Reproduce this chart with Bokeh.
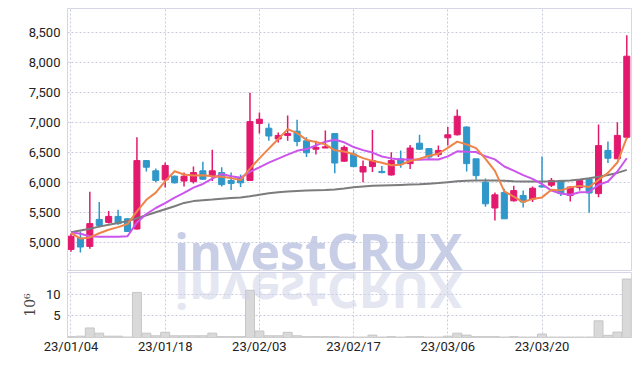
from bokeh.plotting import figure
from bokeh.models import ColumnDataSource, Range1d, FixedTicker, NumeralTickFormatter
from bokeh.layouts import column
from bokeh.embed import file_html
from bokeh.resources import INLINE

dates = ["23/01/04", "23/01/05", "23/01/06", "23/01/09", "23/01/10", "23/01/11", "23/01/12", "23/01/13",
         "23/01/16", "23/01/17", "23/01/18", "23/01/19", "23/01/20", "23/01/25", "23/01/26", "23/01/27",
         "23/01/30", "23/01/31", "23/02/01", "23/02/02", "23/02/03", "23/02/06", "23/02/07", "23/02/08",
         "23/02/09", "23/02/10", "23/02/13", "23/02/14", "23/02/15", "23/02/16", "23/02/17", "23/02/20",
         "23/02/21", "23/02/22", "23/02/23", "23/02/24", "23/02/27", "23/02/28", "23/03/02", "23/03/03",
         "23/03/06", "23/03/07", "23/03/08", "23/03/09", "23/03/10", "23/03/13", "23/03/14", "23/03/15",
         "23/03/16", "23/03/17", "23/03/20", "23/03/21", "23/03/22", "23/03/23", "23/03/24", "23/03/27",
         "23/03/28", "23/03/29", "23/03/30", "23/03/31"]

open_ = [4890, 5080, 4940, 5390, 5340, 5440, 5400, 5230, 6370, 6200,
         6050, 6110, 6030, 6020, 6200, 6120, 6170, 6040, 6090, 6040,
         6990, 6910, 6730, 6790, 6860, 6700, 6560, 6580, 6820, 6360,
         6480, 6180, 6270, 6190, 6130, 6400, 6320, 6660, 6570, 6470,
         6750, 6800, 6930, 6400, 6010, 5580, 5840, 5700, 5790, 5730,
         5950, 5960, 6040, 5790, 5920, 6060, 5820, 6540, 6400, 6760]
high = [5150, 5190, 5850, 5680, 5530, 5550, 5410, 6760, 6380, 6240,
        6340, 6120, 6170, 6270, 6350, 6550, 6260, 6170, 6140, 7500,
        7170, 6990, 6840, 7120, 7050, 6760, 6700, 6870, 6820, 6620,
        6540, 6370, 6880, 6280, 6510, 6540, 6630, 6800, 6570, 6620,
        6930, 7220, 6940, 6400, 6070, 5840, 5900, 5950, 5870, 5940,
        6440, 6080, 6040, 5940, 6050, 6060, 6970, 6690, 7010, 8460]
low = [4850, 4840, 4900, 5260, 5320, 5300, 5180, 5220, 6190, 6010,
       5920, 5990, 5940, 5990, 6050, 6030, 5940, 5880, 5930, 6040,
       6820, 6700, 6670, 6700, 6610, 6430, 6470, 6580, 6160, 6350,
       6260, 6010, 6180, 6160, 6120, 6250, 6230, 6550, 6380, 6430,
       6620, 6790, 6190, 6050, 5600, 5370, 5400, 5690, 5590, 5680,
       5920, 5930, 5780, 5690, 5870, 5500, 5760, 6330, 6400, 6730]
close = [5110, 4930, 5320, 5290, 5440, 5320, 5190, 6370, 6260, 6040,
         6290, 6000, 6110, 6170, 6060, 6200, 5970, 5990, 6000, 7020,
         7060, 6780, 6790, 6820, 6690, 6500, 6590, 6600, 6330, 6590,
         6270, 6270, 6370, 6170, 6370, 6320, 6580, 6560, 6430, 6540,
         6800, 7110, 6320, 6120, 5650, 5800, 5400, 5870, 5680, 5910,
         5930, 6040, 5820, 5930, 6040, 5830, 6620, 6410, 6790, 8110]
volume_m = [0.2, 0.3, 2.2, 1.0, 0.3, 0.3, 0.1, 10.4, 1.0, 0.4,
            1.2, 0.4, 0.4, 0.4, 0.4, 1.0, 0.2, 0.2, 0.2, 10.9,
            1.5, 0.4, 0.4, 1.2, 0.4, 0.2, 0.2, 0.2, 0.2, 0.1,
            0.1, 0.1, 0.55, 0.1, 0.2, 0.1, 0.2, 0.2, 0.1, 0.1,
            0.3, 1.0, 0.55, 0.2, 0.2, 0.2, 0.1, 0.2, 0.1, 0.1,
            0.8, 0.1, 0.1, 0.1, 0.1, 0.1, 3.85, 0.5, 1.25, 13.5]
ma5 = [5167, 5070, 5090, 5160, 5218, 5262, 5313, 5523, 5717, 5836,
       6029, 6192, 6139, 6121, 6125, 6108, 6102, 6078, 6045, 6237,
       6408, 6570, 6729, 6894, 6828, 6715, 6679, 6641, 6542, 6521,
       6476, 6412, 6366, 6335, 6292, 6301, 6363, 6400, 6451, 6484,
       6582, 6686, 6638, 6577, 6400, 6199, 5858, 5769, 5680, 5732,
       5757, 5885, 5874, 5924, 5949, 5931, 6047, 6166, 6338, 6752]
ma10 = [5177, 5150, 5110, 5100, 5100, 5100, 5110, 5340, 5480, 5580,
        5660, 5752, 5831, 5919, 5981, 6069, 6147, 6109, 6083, 6181,
        6258, 6336, 6404, 6469, 6533, 6562, 6625, 6685, 6718, 6675,
        6596, 6545, 6504, 6439, 6407, 6389, 6388, 6383, 6393, 6388,
        6441, 6525, 6519, 6514, 6442, 6390, 6272, 6204, 6129, 6066,
        5978, 5871, 5821, 5802, 5843, 5846, 5968, 6022, 6189, 6409]
ma60 = [5175, 5205, 5235, 5270, 5300, 5330, 5365, 5410, 5460, 5510,
        5560, 5610, 5665, 5695, 5710, 5722, 5735, 5745, 5755, 5775,
        5800, 5825, 5842, 5855, 5865, 5870, 5875, 5880, 5890, 5905,
        5925, 5940, 5950, 5955, 5960, 5965, 5970, 5975, 5985, 5995,
        6010, 6025, 6035, 6040, 6040, 6038, 6035, 6025, 6022, 6022,
        6022, 6025, 6030, 6040, 6055, 6075, 6100, 6130, 6165, 6215]

tick_idx = [0, 10, 20, 30, 40, 50]
price_ticks = [5000, 5500, 6000, 6500, 7000, 7500, 8000, 8500]
vol_ticks = [5, 10]
watermark = "investCRUX"

UP = "#e3196d"
DOWN = "#2f97c9"
GRID = "#c9cbe3"
FRAME = "#d6d7e6"
FONT = "Roboto"

idx = list(range(len(dates)))
colors = [UP if c > o else DOWN for o, c in zip(open_, close)]
src = ColumnDataSource(dict(x=idx, o=open_, h=high, l=low, c=close,
                            top=[max(o, c) for o, c in zip(open_, close)],
                            bot=[min(o, c) for o, c in zip(open_, close)],
                            col=colors, vol=volume_m,
                            ma5=ma5, ma10=ma10, ma60=ma60))

xr = Range1d(-0.37, 59.5)

p = figure(frame_width=564, frame_height=263, x_range=xr, y_range=Range1d(4522, 8905),
           output_backend="svg", toolbar_location=None, x_axis_location=None,
           min_border_left=67, min_border_right=3, min_border_top=8, min_border_bottom=0)
p.outline_line_color = FRAME

p.yaxis.ticker = FixedTicker(ticks=price_ticks)
p.yaxis.formatter = NumeralTickFormatter(format="0,0")
p.yaxis.major_tick_line_color = None
p.yaxis.minor_tick_line_color = None
p.yaxis.major_tick_out = 0
p.yaxis.axis_line_color = FRAME
p.yaxis.major_label_standoff = 7
p.yaxis.major_label_text_font = FONT
p.yaxis.major_label_text_font_size = "13px"
p.yaxis.major_label_text_color = "#222222"

p.ygrid.ticker = FixedTicker(ticks=price_ticks)
p.xgrid.ticker = FixedTicker(ticks=tick_idx)
for g in (p.xgrid, p.ygrid):
    g.grid_line_color = GRID
    g.grid_line_dash = "2 2"
    g.grid_line_width = 1

p.segment(x0="x", y0="l", x1="x", y1="h", color="col", line_width=1.5, source=src)
p.vbar(x="x", top="top", bottom="bot", width=0.64, fill_color="col", line_color="col", source=src)

p.line("x", "ma60", source=src, line_color="#7c7c7c", line_width=2)
p.line("x", "ma10", source=src, line_color="#cc55ec", line_width=2)
p.line("x", "ma5", source=src, line_color="#ef8449", line_width=2)

v = figure(frame_width=564, frame_height=65, x_range=xr, y_range=Range1d(0, 15),
           output_backend="svg", toolbar_location=None,
           min_border_left=67, min_border_right=3, min_border_top=1, min_border_bottom=0)
v.outline_line_color = FRAME
v.vbar(x="x", top="vol", bottom=0, width=0.95, fill_color="#d9d9d9", line_color="#c6c6c6", source=src)

v.yaxis.ticker = FixedTicker(ticks=vol_ticks)
v.yaxis.major_tick_line_color = None
v.yaxis.minor_tick_line_color = None
v.yaxis.major_tick_out = 0
v.yaxis.axis_line_color = FRAME
v.yaxis.major_label_standoff = 7
v.yaxis.major_label_text_font = FONT
v.yaxis.major_label_text_font_size = "13px"
v.yaxis.major_label_text_color = "#222222"
v.yaxis.axis_label = "10\u2076"
v.yaxis.axis_label_text_font = "DejaVu Serif"
v.yaxis.axis_label_text_font_style = "normal"
v.yaxis.axis_label_text_font_size = "14px"
v.yaxis.axis_label_text_color = "#444444"
v.yaxis.axis_label_standoff = 5

v.xaxis.ticker = FixedTicker(ticks=tick_idx)
v.xaxis.major_label_overrides = {i: dates[i] for i in tick_idx}
v.xaxis.major_tick_line_color = None
v.xaxis.minor_tick_line_color = None
v.xaxis.major_tick_out = 0
v.xaxis.axis_line_color = "#cfcfcf"
v.xaxis.major_label_standoff = 1
v.xaxis.major_label_text_font = FONT
v.xaxis.major_label_text_font_size = "13px"
v.xaxis.major_label_text_color = "#222222"

v.ygrid.ticker = FixedTicker(ticks=vol_ticks)
v.xgrid.ticker = FixedTicker(ticks=tick_idx)
for g in (v.xgrid, v.ygrid):
    g.grid_line_color = GRID
    g.grid_line_dash = "2 2"
    g.grid_line_width = 1

layout = column(p, v, spacing=0)
html = file_html(layout, INLINE)

# watermark and its mirrored reflection below the price panel
wm_style = ("position:absolute;left:174px;top:232px;height:39px;line-height:38.8px;"
            "font-family:'Open Sans';font-weight:bold;font-size:50px;white-space:nowrap;"
            "pointer-events:none;")
overlay = ('<style>body{overflow:hidden}</style>'
           '<div style="' + wm_style + 'color:rgba(190,197,226,0.85);">' + watermark + '</div>'
           '<div style="' + wm_style + 'color:rgba(205,210,232,0.55);'
           'transform:scaleY(-1);transform-origin:50% 100%;">' + watermark + '</div>')
html = html.replace("</body>", overlay + "</body>")
open("out.html", "w").write(html)
